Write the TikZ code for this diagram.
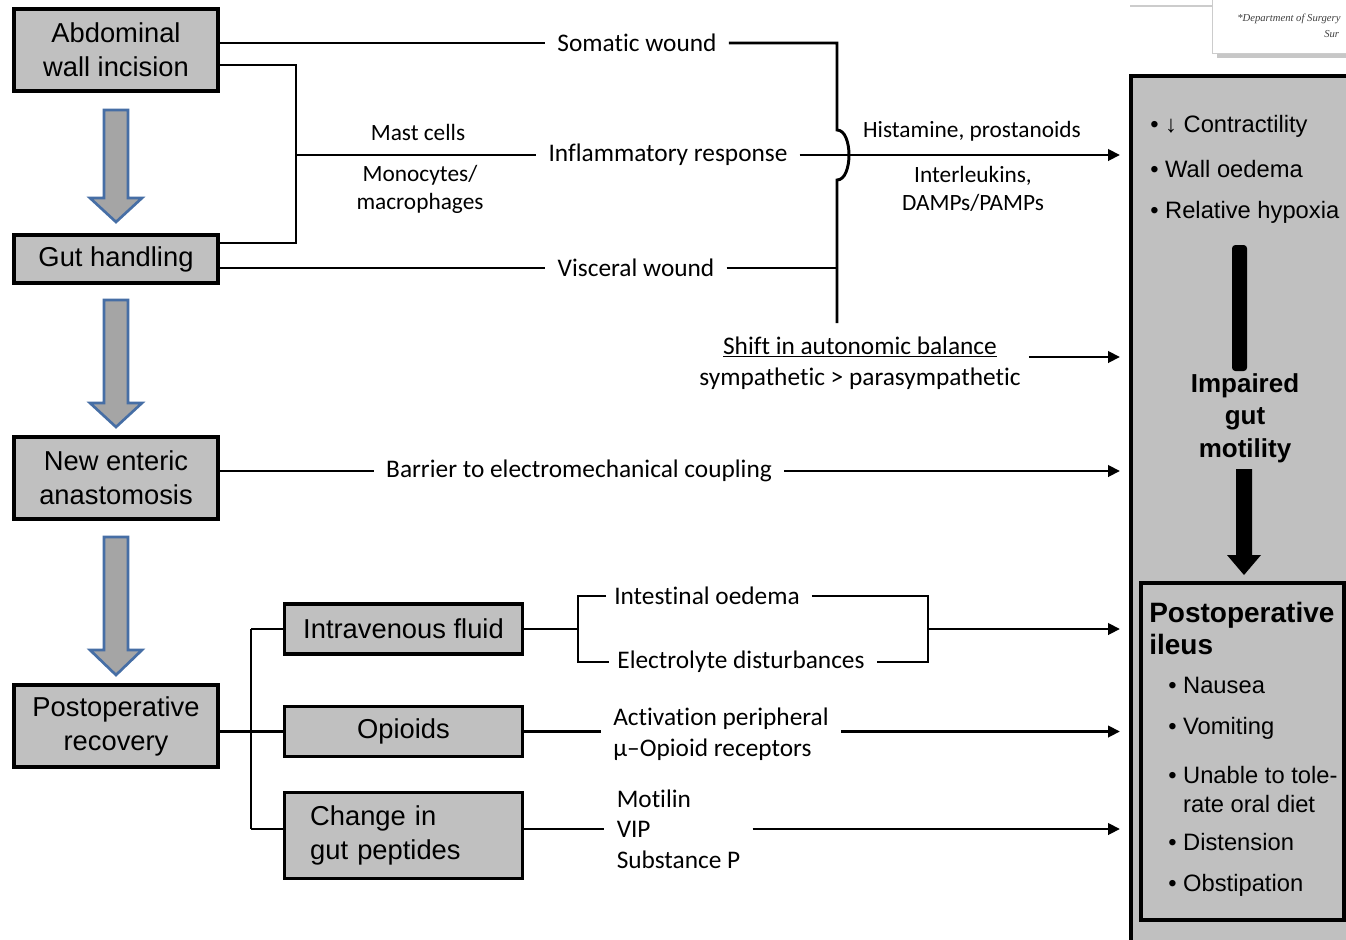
\documentclass[tikz,border=0pt]{standalone}
\usepackage{fontspec}
\setmainfont{Liberation Sans}
\newfontfamily\calfont[Ligatures=NoCommon]{Carlito}
\newfontfamily\serfont{Liberation Serif}
\usetikzlibrary{arrows.meta,calc}
\definecolor{boxgray}{RGB}{192,192,192}
\definecolor{arrowgray}{RGB}{165,165,165}
\definecolor{arrowblue}{RGB}{70,110,165}
\begin{document}
\begin{tikzpicture}[x=0.75pt,y=-0.75pt,
 box/.style={draw, line width=2.4pt, fill=boxgray, align=center, inner sep=0pt, font=\fontsize{20.5}{25.5}\selectfont},
 lbl/.style={font=\calfont\fontsize{19}{23}\selectfont, inner xsep=9pt, inner ysep=2pt, align=center},
 note/.style={font=\calfont\fontsize{17.5}{21}\selectfont, inner sep=1pt, align=center},
 conn/.style={line width=2.2pt},
 arr/.style={conn, -{Triangle[length=9pt,width=8.5pt]}},
 blockarrow/.style={fill=arrowgray, draw=arrowblue, line width=2pt, line join=miter},
 ptxt/.style={font=\fontsize{17.8}{21.75}\selectfont, anchor=west, inner sep=0pt, align=left},
 pbold/.style={font=\bfseries\fontsize{19.5}{24.4}\selectfont, inner sep=0pt, align=center},
 snip/.style={font=\serfont\itshape\fontsize{8}{9}\selectfont, inner sep=0pt, text=black!75},
]
\useasboundingbox (0,0) rectangle (1346,939);
\fill[white] (0,0) rectangle (1346,939);

% background paper snippet (top right)
\draw[black!20, line width=0.8pt] (1130,6) -- (1212,6);
\fill[black!22] (1217,4) rectangle (1360,58);
\fill[white] (1212,-5) rectangle (1360,53);
\draw[black!20, line width=0.6pt] (1212,-5) -- (1212,53) -- (1360,53);
\node[snip, anchor=west] (dep) at (1237,19) {*Department of Surgery};
\node[snip, anchor=west] (sur) at (1324,34) {Sur};

% left boxes
\node[box, minimum width=153pt, minimum height=61.5pt] (abd) at (116,50) {Abdominal\\wall incision};
\node[box, minimum width=153pt, minimum height=36pt] (gut) at (116,259) {Gut handling};
\node[box, minimum width=153pt, minimum height=61.5pt] (ana) at (116,478) {New enteric\\anastomosis};
\node[box, minimum width=153pt, minimum height=61.5pt] (rec) at (116,726) {Postoperative\\recovery};
\node[box, minimum width=179pt, minimum height=37.5pt] (ivf) at (403.5,629) {Intravenous fluid};
\node[box, minimum width=179pt, minimum height=37pt] (opi) at (403.5,731.5) {Opioids};
\node[box, minimum width=179pt, minimum height=64pt, text width=140pt, align=left] (pep) at (403.5,835.5) {Change in\\gut peptides};

% block arrows
\foreach \t/\h/\b in {110/198/222, 300/403/427, 537/650/675}
  \draw[blockarrow] (104,\t) -- (128,\t) -- (128,\h) -- (142,\h) -- (116,\b) -- (90,\h) -- (104,\h) -- cycle;

% labels
\node[lbl] (som) at (637,43) {Somatic wound};
\node[lbl] (inf) at (668,155) {Inflammatory response};
\node[lbl] (vis) at (636,268) {Visceral wound};
\node[lbl] (bar) at (579,471) {Barrier to electromechanical coupling};
\node[note] (mast) at (418,132) {Mast cells};
\node[note] (mono) at (420,189) {Monocytes/\\macrophages};
\node[note] (hist) at (972,131) {Histamine, prostanoids};
\node[note] (intl) at (973,189) {Interleukins,\\DAMPs/PAMPs};
\node[lbl, font=\calfont\fontsize{19}{23.5}\selectfont, inner xsep=6pt] (shift) at (860,363) {\underline{Shift in autonomic balance}\\sympathetic > parasympathetic};
\node[lbl] (ioed) at (707,596) {Intestinal oedema};
\node[lbl] (elec) at (741,662) {Electrolyte disturbances};
\node[lbl, align=left] (act) at (721,734) {Activation peripheral\\μ–Opioid receptors};
\node[lbl, align=left] (mot) at (678.5,829) {Motilin\\VIP\\Substance P};

% coordinates
\coordinate (bus1) at (296,65);
\coordinate (bus2) at (296,243);
\coordinate (busm) at (296,155);
\coordinate (vtop) at (837,43);
\coordinate (vbot) at (837,323);
\coordinate (vvis) at (837,268);
\coordinate (t1) at (1120,155);
\coordinate (t2) at (1120,357);
\coordinate (t3) at (1120,471);
\coordinate (t4) at (1120,629);
\coordinate (t5) at (1120,731.5);
\coordinate (t6) at (1120,829);
\coordinate (rb1) at (251,629);
\coordinate (rb2) at (251,829);
\coordinate (br1) at (578,596);
\coordinate (br2) at (578,662);
\coordinate (bc) at (578,629);
\coordinate (cr1) at (928,596);
\coordinate (cr2) at (928,662);
\coordinate (cm) at (928,629);

% top connectors
\draw[conn] ([yshift=5.25pt]abd.east) -- (som.west);
\draw[conn] (som.east) -- (vtop) -- (837,130) .. controls (853,130) and (853,180) .. (837,180) -- (vbot);
\draw[conn] ([yshift=-11.25pt]abd.east) -- (bus1) -- (bus2) -- ([yshift=12pt]gut.east);
\draw[conn] (busm) -- (inf.west);
\draw[arr] (inf.east) -- (t1);
\draw[conn] ([yshift=-6.75pt]gut.east) -- (vis.west);
\draw[conn] (vis.east) -- (vvis);
\draw[arr] ([yshift=4.5pt]shift.east) -- (t2);
\draw[conn] ([yshift=5.25pt]ana.east) -- (bar.west);
\draw[arr] (bar.east) -- (t3);

% bottom connectors
\draw[conn] (rec.east |- opi.west) -- (opi.west);
\draw[conn] (rb1) -- (rb2);
\draw[conn] (rb1) -- (ivf.west);
\draw[conn] (rb2) -- (pep.west |- rb2);
\draw[conn] (ivf.east) -- (bc);
\draw[conn] ([xshift=3pt]ioed.west) -- (br1) -- (br2) -- ([xshift=3pt]elec.west);
\draw[conn] (ioed.east) -- (cr1) -- (cr2) -- (elec.east);
\draw[arr] (cm) -- (t4);
\draw[conn] (opi.east) -- (act.west |- opi.east);
\draw[arr] (act.east |- opi.east) -- (t5);
\draw[conn] (pep.east |- mot.west) -- (mot.west);
\draw[arr] (mot.east) -- (t6);

% right panel
\draw[line width=2.6pt, fill=boxgray] (1131,76) rectangle (1370,960);
\node[ptxt] (c1) at (1150,126) {• ↓ Contractility};
\node[ptxt] (c2) at (1150,169) {• Wall oedema};
\node[ptxt] (c3) at (1150,212) {• Relative hypoxia};
\fill[rounded corners=2.5pt] (1232,245) rectangle (1247,371);
\node[pbold] (imp) at (1245,418) {Impaired\\gut\\motility};
\fill (1236,469) -- (1252,469) -- (1252,555) -- (1261,555) -- (1244,575) -- (1227,555) -- (1236,555) -- cycle;
\draw[line width=2.6pt] (1141,583) rectangle (1344,920);
\node[pbold, font=\bfseries\fontsize{21}{24}\selectfont, anchor=west, align=left] (pi) at (1149,628) {Postoperative\\ileus};
\node[ptxt] (b1) at (1168,685) {• Nausea};
\node[ptxt] (b2) at (1168,728) {• Vomiting};
\node[ptxt] (b3) at (1168,789.5) {• Unable to tole-\\\phantom{• }rate oral diet};
\node[ptxt] (b4) at (1168,842) {• Distension};
\node[ptxt] (b5) at (1168,885) {• Obstipation};
\end{tikzpicture}
\end{document}
